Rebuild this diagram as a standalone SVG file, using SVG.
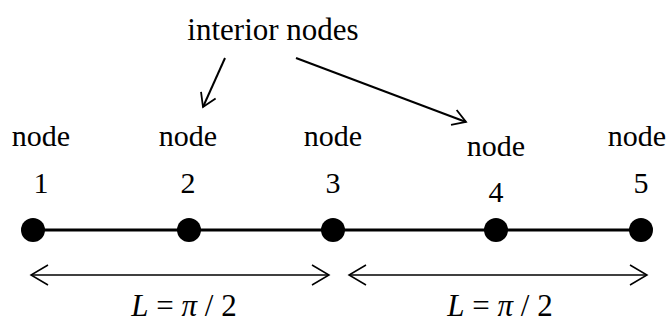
<svg xmlns="http://www.w3.org/2000/svg" width="669" height="326" viewBox="0 0 669 326">
<style>
text{font-family:"Liberation Serif","Times New Roman",serif;font-size:30px;fill:#000;text-anchor:middle}
.big{font-size:31px}
.ln{stroke:#000;fill:none}
.dot{fill:#000}
</style>
<defs>
<marker id="ah" viewBox="-14 -9 16 18" markerWidth="16" markerHeight="18" refX="0" refY="0" orient="auto-start-reverse" markerUnits="userSpaceOnUse">
<path d="M-13,-8 L0,0 L-13,8" fill="none" stroke="#000" stroke-width="1.8"/>
</marker>
<marker id="dh" viewBox="-19 -12 21 24" markerWidth="21" markerHeight="24" refX="0" refY="0" orient="auto-start-reverse" markerUnits="userSpaceOnUse">
<path d="M-17,-10 L0,0 L-17,10" fill="none" stroke="#000" stroke-width="1.5"/>
</marker>
</defs>
<rect width="669" height="326" fill="#fff"/>
<g id="label-interior"><text class="big" x="273" y="40">interior nodes</text></g>
<g id="connectors">
<line class="ln" x1="33" y1="230" x2="641" y2="230" stroke-width="3"/>
<line class="ln" x1="225" y1="58" x2="203" y2="107" stroke-width="2" marker-end="url(#ah)"/>
<line class="ln" x1="296" y1="58" x2="466" y2="122" stroke-width="2" marker-end="url(#ah)"/>
<line class="ln" x1="31" y1="275" x2="329" y2="275" stroke-width="1.5" marker-start="url(#dh)" marker-end="url(#dh)"/>
<line class="ln" x1="349" y1="275" x2="647" y2="275" stroke-width="1.5" marker-start="url(#dh)" marker-end="url(#dh)"/>
</g>
<g id="node1"><text x="41" y="146">node</text><text x="41" y="193">1</text><circle class="dot" cx="33" cy="230" r="12"/></g>
<g id="node2"><text x="188" y="146">node</text><text x="188" y="193">2</text><circle class="dot" cx="189" cy="230" r="12"/></g>
<g id="node3"><text x="333" y="146">node</text><text x="333" y="193">3</text><circle class="dot" cx="333" cy="230" r="12"/></g>
<g id="node4"><text x="496" y="156">node</text><text x="496" y="202">4</text><circle class="dot" cx="496" cy="230" r="12"/></g>
<g id="node5"><text x="637" y="146">node</text><text x="641" y="193">5</text><circle class="dot" cx="641" cy="230" r="12"/></g>
<g id="dim1"><text class="big" x="184" y="316"><tspan font-style="italic">L</tspan> = <tspan font-style="italic">π</tspan> / 2</text></g>
<g id="dim2"><text class="big" x="500" y="316"><tspan font-style="italic">L</tspan> = <tspan font-style="italic">π</tspan> / 2</text></g>
</svg>
